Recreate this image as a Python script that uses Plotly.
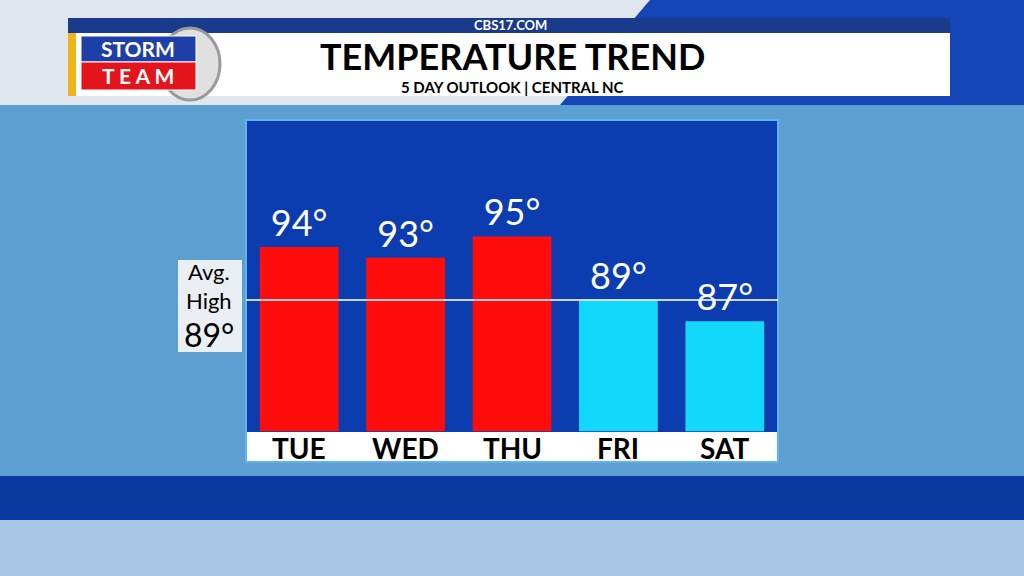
import plotly.graph_objects as go

days = ["TUE", "WED", "THU", "FRI", "SAT"]
highs = [94, 93, 95, 89, 87]
avg_high = 89
bar_colors = ["#ff0d0d", "#ff0d0d", "#ff0d0d", "#12d8fb", "#12d8fb"]

W, H = 1024, 576
def px(x): return x / W
def py(y): return 1 - y / H

# plot area in pixels
X0, X1, Y0, Y1 = 246, 778, 120, 462
Y_MIN, Y_MAX, BASE = 73.7, 106, 76.6

fig = go.Figure()
fig.add_trace(go.Bar(
    x=days, y=[h - BASE for h in highs], base=BASE,
    marker=dict(color=bar_colors, line=dict(width=0)),
    width=0.74,
    text=[f"{h}°" for h in highs], textposition="outside",
    textfont=dict(family="Lato", size=36, color="white"),
    cliponaxis=False, hoverinfo="skip",
))

shapes = []
# sky background
shapes.append(dict(type="rect", xref="paper", yref="paper", x0=0, x1=1, y0=0, y1=1,
                   fillcolor="#5d9fd0", line_width=0, layer="below"))
shapes.append(dict(type="rect", xref="paper", yref="paper", x0=0, x1=1, y0=py(105), y1=py(0),
                   fillcolor="#dfe6ee", line_width=0, layer="below"))
shapes.append(dict(type="path", xref="paper", yref="paper",
                   path=f"M {px(650)},{py(0)} L {px(1024)},{py(0)} L {px(1024)},{py(105)} L {px(560)},{py(105)} Z",
                   fillcolor="#1446b8", line_width=0, layer="below"))
shapes.append(dict(type="rect", xref="paper", yref="paper", x0=0, x1=1, y0=py(520), y1=py(476),
                   fillcolor="#0a3aa0", line_width=0, layer="below"))
shapes.append(dict(type="rect", xref="paper", yref="paper", x0=0, x1=1, y0=py(576), y1=py(520),
                   fillcolor="#a9c6e4", line_width=0, layer="below"))
# panel background
shapes.append(dict(type="rect", xref="paper", yref="paper", x0=px(X0), x1=px(X1), y0=py(Y1), y1=py(Y0),
                   fillcolor="#0b3cb0", line_width=0, layer="below"))
# header
shapes.append(dict(type="rect", xref="paper", yref="paper", x0=px(68), x1=px(950), y0=py(33), y1=py(18),
                   fillcolor="#1a3a8c", line_width=0))
shapes.append(dict(type="rect", xref="paper", yref="paper", x0=px(68), x1=px(950), y0=py(96), y1=py(33),
                   fillcolor="white", line_width=0))
shapes.append(dict(type="rect", xref="paper", yref="paper", x0=px(68), x1=px(76), y0=py(96), y1=py(33),
                   fillcolor="#f2b21c", line_width=0))
shapes.append(dict(type="circle", xref="paper", yref="paper", x0=px(160), x1=px(220), y0=py(100), y1=py(28),
                   fillcolor="#e0e0e0", line=dict(color="#9a9a9a", width=3)))
shapes.append(dict(type="rect", xref="paper", yref="paper", x0=px(81), x1=px(196), y0=py(62), y1=py(36),
                   fillcolor="#1f3fa8", line=dict(color="white", width=1)))
shapes.append(dict(type="rect", xref="paper", yref="paper", x0=px(81), x1=px(196), y0=py(90), y1=py(62),
                   fillcolor="#e3141b", line=dict(color="white", width=1)))
# bottom white strip for day labels
shapes.append(dict(type="rect", xref="paper", yref="paper", x0=px(X0), x1=px(X1), y0=py(Y1), y1=py(432),
                   fillcolor="white", line_width=0))
# panel border
shapes.append(dict(type="rect", xref="paper", yref="paper", x0=px(X0), x1=px(X1), y0=py(Y1), y1=py(Y0),
                   line=dict(color="#5fb4f0", width=2)))
# avg line
shapes.append(dict(type="line", xref="paper", yref="y", x0=px(X0), x1=px(X1), y0=avg_high, y1=avg_high,
                   line=dict(color="rgba(235,240,255,0.85)", width=2)))
# avg box
shapes.append(dict(type="rect", xref="paper", yref="paper", x0=px(178), x1=px(242), y0=py(352), y1=py(260),
                   fillcolor="rgba(245,245,245,0.92)", line_width=0))

def label(text, x, y, size, color="black", xref="paper"):
    return dict(text=text, x=x, y=py(y), xref=xref, yref="paper", showarrow=False,
                xanchor="center", yanchor="middle", align="center",
                font=dict(family="Lato", size=size, color=color))

ann = [
    label("<b>CBS17.COM</b>", px(510), 25, 13, "white"),
    label("<b>TEMPERATURE TREND</b>", px(512), 56, 36),
    label("<b>5 DAY OUTLOOK | CENTRAL NC</b>", px(512), 87, 15),
    label("<b>STORM</b>", px(138), 49, 21, "white"),
    label("<b>T E A M</b>", px(138), 76, 21, "white"),
    label("Avg.<br>High", px(209), 286, 22),
    label(f"{avg_high}°", px(209), 334, 32),
]
for d in days:
    ann.append(label(f"<b>{d}</b>", d, 448, 28, xref="x"))

fig.update_layout(
    width=W, height=H, margin=dict(l=0, r=0, t=0, b=0),
    paper_bgcolor="#5d9fd0", plot_bgcolor="rgba(0,0,0,0)",
    xaxis=dict(domain=[px(X0), px(X1)], showticklabels=False, showgrid=False, zeroline=False),
    yaxis=dict(domain=[py(Y1), py(Y0)], range=[Y_MIN, Y_MAX], showticklabels=False,
               showgrid=False, zeroline=False),
    bargap=0.28, showlegend=False, shapes=shapes, annotations=ann,
)

fig.write_html("out.html", config={"displayModeBar": False},
               post_script="document.body.style.margin='0';document.body.style.overflow='hidden';")
